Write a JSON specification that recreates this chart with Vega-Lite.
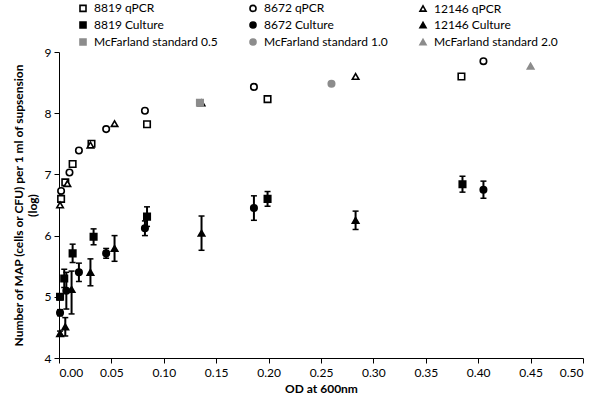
{
  "$schema": "https://vega.github.io/schema/vega-lite/v6.json",
  "width": 524,
  "height": 306,
  "autosize": {"type": "none"},
  "padding": {"left": 59, "top": 52, "right": 17, "bottom": 44},
  "background": "white",
  "config": {
    "font": "Lato",
    "view": {"stroke": null},
    "axis": {"grid": false, "domainColor": "black", "tickColor": "black", "labelColor": "black", "titleColor": "black", "labelFont": "Lato", "titleFont": "Lato", "labelFontSize": 12, "titleFontSize": 12, "titleFontWeight": "bold", "tickSize": 5, "domainWidth": 1, "tickWidth": 1}
  },
  "data": {
    "values": [
      {"series": "8819 qPCR", "x": 0.002, "y": 6.6},
      {"series": "8819 qPCR", "x": 0.006, "y": 6.87},
      {"series": "8819 qPCR", "x": 0.013, "y": 7.17},
      {"series": "8819 qPCR", "x": 0.031, "y": 7.5},
      {"series": "8819 qPCR", "x": 0.084, "y": 7.82},
      {"series": "8819 qPCR", "x": 0.199, "y": 8.23},
      {"series": "8819 qPCR", "x": 0.384, "y": 8.6},
      {"series": "8672 qPCR", "x": 0.002, "y": 6.73},
      {"series": "8672 qPCR", "x": 0.01, "y": 7.03},
      {"series": "8672 qPCR", "x": 0.019, "y": 7.39},
      {"series": "8672 qPCR", "x": 0.045, "y": 7.74},
      {"series": "8672 qPCR", "x": 0.082, "y": 8.04},
      {"series": "8672 qPCR", "x": 0.186, "y": 8.43},
      {"series": "8672 qPCR", "x": 0.405, "y": 8.85},
      {"series": "12146 qPCR", "x": 0.001, "y": 6.5},
      {"series": "12146 qPCR", "x": 0.008, "y": 6.85},
      {"series": "12146 qPCR", "x": 0.03, "y": 7.48},
      {"series": "12146 qPCR", "x": 0.053, "y": 7.83},
      {"series": "12146 qPCR", "x": 0.136, "y": 8.17},
      {"series": "12146 qPCR", "x": 0.283, "y": 8.6},
      {"series": "8819 Culture", "x": 0.001, "y": 5.0, "lo": 4.95, "hi": 5.05},
      {"series": "8819 Culture", "x": 0.005, "y": 5.3, "lo": 5.15, "hi": 5.45},
      {"series": "8819 Culture", "x": 0.013, "y": 5.71, "lo": 5.56, "hi": 5.86},
      {"series": "8819 Culture", "x": 0.033, "y": 5.98, "lo": 5.85, "hi": 6.11},
      {"series": "8819 Culture", "x": 0.084, "y": 6.31, "lo": 6.15, "hi": 6.47},
      {"series": "8819 Culture", "x": 0.199, "y": 6.6, "lo": 6.48, "hi": 6.72},
      {"series": "8819 Culture", "x": 0.385, "y": 6.84, "lo": 6.71, "hi": 6.97},
      {"series": "8672 Culture", "x": 0.001, "y": 4.74, "lo": 4.69, "hi": 4.79},
      {"series": "8672 Culture", "x": 0.007, "y": 5.1, "lo": 4.8, "hi": 5.4},
      {"series": "8672 Culture", "x": 0.019, "y": 5.4, "lo": 5.25, "hi": 5.55},
      {"series": "8672 Culture", "x": 0.045, "y": 5.71, "lo": 5.63, "hi": 5.79},
      {"series": "8672 Culture", "x": 0.082, "y": 6.12, "lo": 6.0, "hi": 6.24},
      {"series": "8672 Culture", "x": 0.186, "y": 6.45, "lo": 6.25, "hi": 6.65},
      {"series": "8672 Culture", "x": 0.405, "y": 6.75, "lo": 6.61, "hi": 6.89},
      {"series": "12146 Culture", "x": 0.001, "y": 4.4, "lo": 4.36, "hi": 4.44},
      {"series": "12146 Culture", "x": 0.006, "y": 4.51, "lo": 4.36, "hi": 4.66},
      {"series": "12146 Culture", "x": 0.012, "y": 5.12, "lo": 4.72, "hi": 5.42},
      {"series": "12146 Culture", "x": 0.03, "y": 5.4, "lo": 5.18, "hi": 5.62},
      {"series": "12146 Culture", "x": 0.053, "y": 5.79, "lo": 5.58, "hi": 6.0},
      {"series": "12146 Culture", "x": 0.136, "y": 6.04, "lo": 5.76, "hi": 6.32},
      {"series": "12146 Culture", "x": 0.283, "y": 6.25, "lo": 6.1, "hi": 6.4},
      {"series": "McFarland standard 0.5", "x": 0.1345, "y": 8.17},
      {"series": "McFarland standard 1.0", "x": 0.26, "y": 8.48},
      {"series": "McFarland standard 2.0", "x": 0.45, "y": 8.77}
    ]
  },
  "encoding": {
    "x": {
      "field": "x", "type": "quantitative",
      "scale": {"domain": [0, 0.5], "nice": false, "zero": false},
      "axis": {"values": [0, 0.05, 0.1, 0.15, 0.2, 0.25, 0.3, 0.35, 0.4, 0.45, 0.5], "format": ".2f", "title": "OD at 600nm", "labelPadding": 4, "titlePadding": 5}
    }
  },
  "layer": [
    {
      "transform": [{"filter": "isValid(datum.lo)"}],
      "mark": {"type": "rule", "color": "black", "strokeWidth": 2},
      "encoding": {
        "y": {"field": "lo", "type": "quantitative", "scale": {"domain": [4, 9], "nice": false, "zero": false}},
        "y2": {"field": "hi"}
      }
    },
    {
      "transform": [{"filter": "isValid(datum.lo)"}],
      "mark": {"type": "tick", "orient": "horizontal", "color": "black", "size": 6, "thickness": 1.5, "opacity": 1},
      "encoding": {"y": {"field": "lo", "type": "quantitative"}}
    },
    {
      "transform": [{"filter": "isValid(datum.lo)"}],
      "mark": {"type": "tick", "orient": "horizontal", "color": "black", "size": 6, "thickness": 1.5, "opacity": 1},
      "encoding": {"y": {"field": "hi", "type": "quantitative"}}
    },
    {
      "mark": {"type": "point", "filled": false, "opacity": 1, "strokeWidth": 1.6, "size": 42},
      "encoding": {
        "y": {
          "field": "y", "type": "quantitative",
          "scale": {"domain": [4, 9], "nice": false, "zero": false},
          "axis": {"values": [4, 5, 6, 7, 8, 9], "format": "d", "title": ["Number of MAP (cells or CFU) per 1 ml of supsension", "(log)"], "titlePadding": 5, "labelPadding": 3}
        },
        "shape": {
          "field": "series", "type": "nominal",
          "scale": {
            "domain": ["8819 qPCR", "8819 Culture", "McFarland standard 0.5", "8672 qPCR", "8672 Culture", "McFarland standard 1.0", "12146 qPCR", "12146 Culture", "McFarland standard 2.0"],
            "range": ["square", "square", "square", "circle", "circle", "circle", "triangle-up", "triangle-up", "triangle-up"]
          },
          "legend": {
            "orient": "none", "legendX": 18, "legendY": -50, "columns": 3, "title": null,
            "columnPadding": 28, "rowPadding": 3, "labelFont": "Lato", "labelFontSize": 12, "labelColor": "black", "symbolSize": 36, "labelOffset": 5, "symbolStrokeWidth": 1.6
          }
        },
        "fill": {
          "field": "series", "type": "nominal",
          "scale": {
            "domain": ["8819 qPCR", "8819 Culture", "McFarland standard 0.5", "8672 qPCR", "8672 Culture", "McFarland standard 1.0", "12146 qPCR", "12146 Culture", "McFarland standard 2.0"],
            "range": ["white", "black", "#8c8c8c", "white", "black", "#8c8c8c", "white", "black", "#8c8c8c"]
          }
        },
        "stroke": {
          "field": "series", "type": "nominal",
          "scale": {
            "domain": ["8819 qPCR", "8819 Culture", "McFarland standard 0.5", "8672 qPCR", "8672 Culture", "McFarland standard 1.0", "12146 qPCR", "12146 Culture", "McFarland standard 2.0"],
            "range": ["black", "black", "#8c8c8c", "black", "black", "#8c8c8c", "black", "black", "#8c8c8c"]
          }
        }
      }
    }
  ]
}
